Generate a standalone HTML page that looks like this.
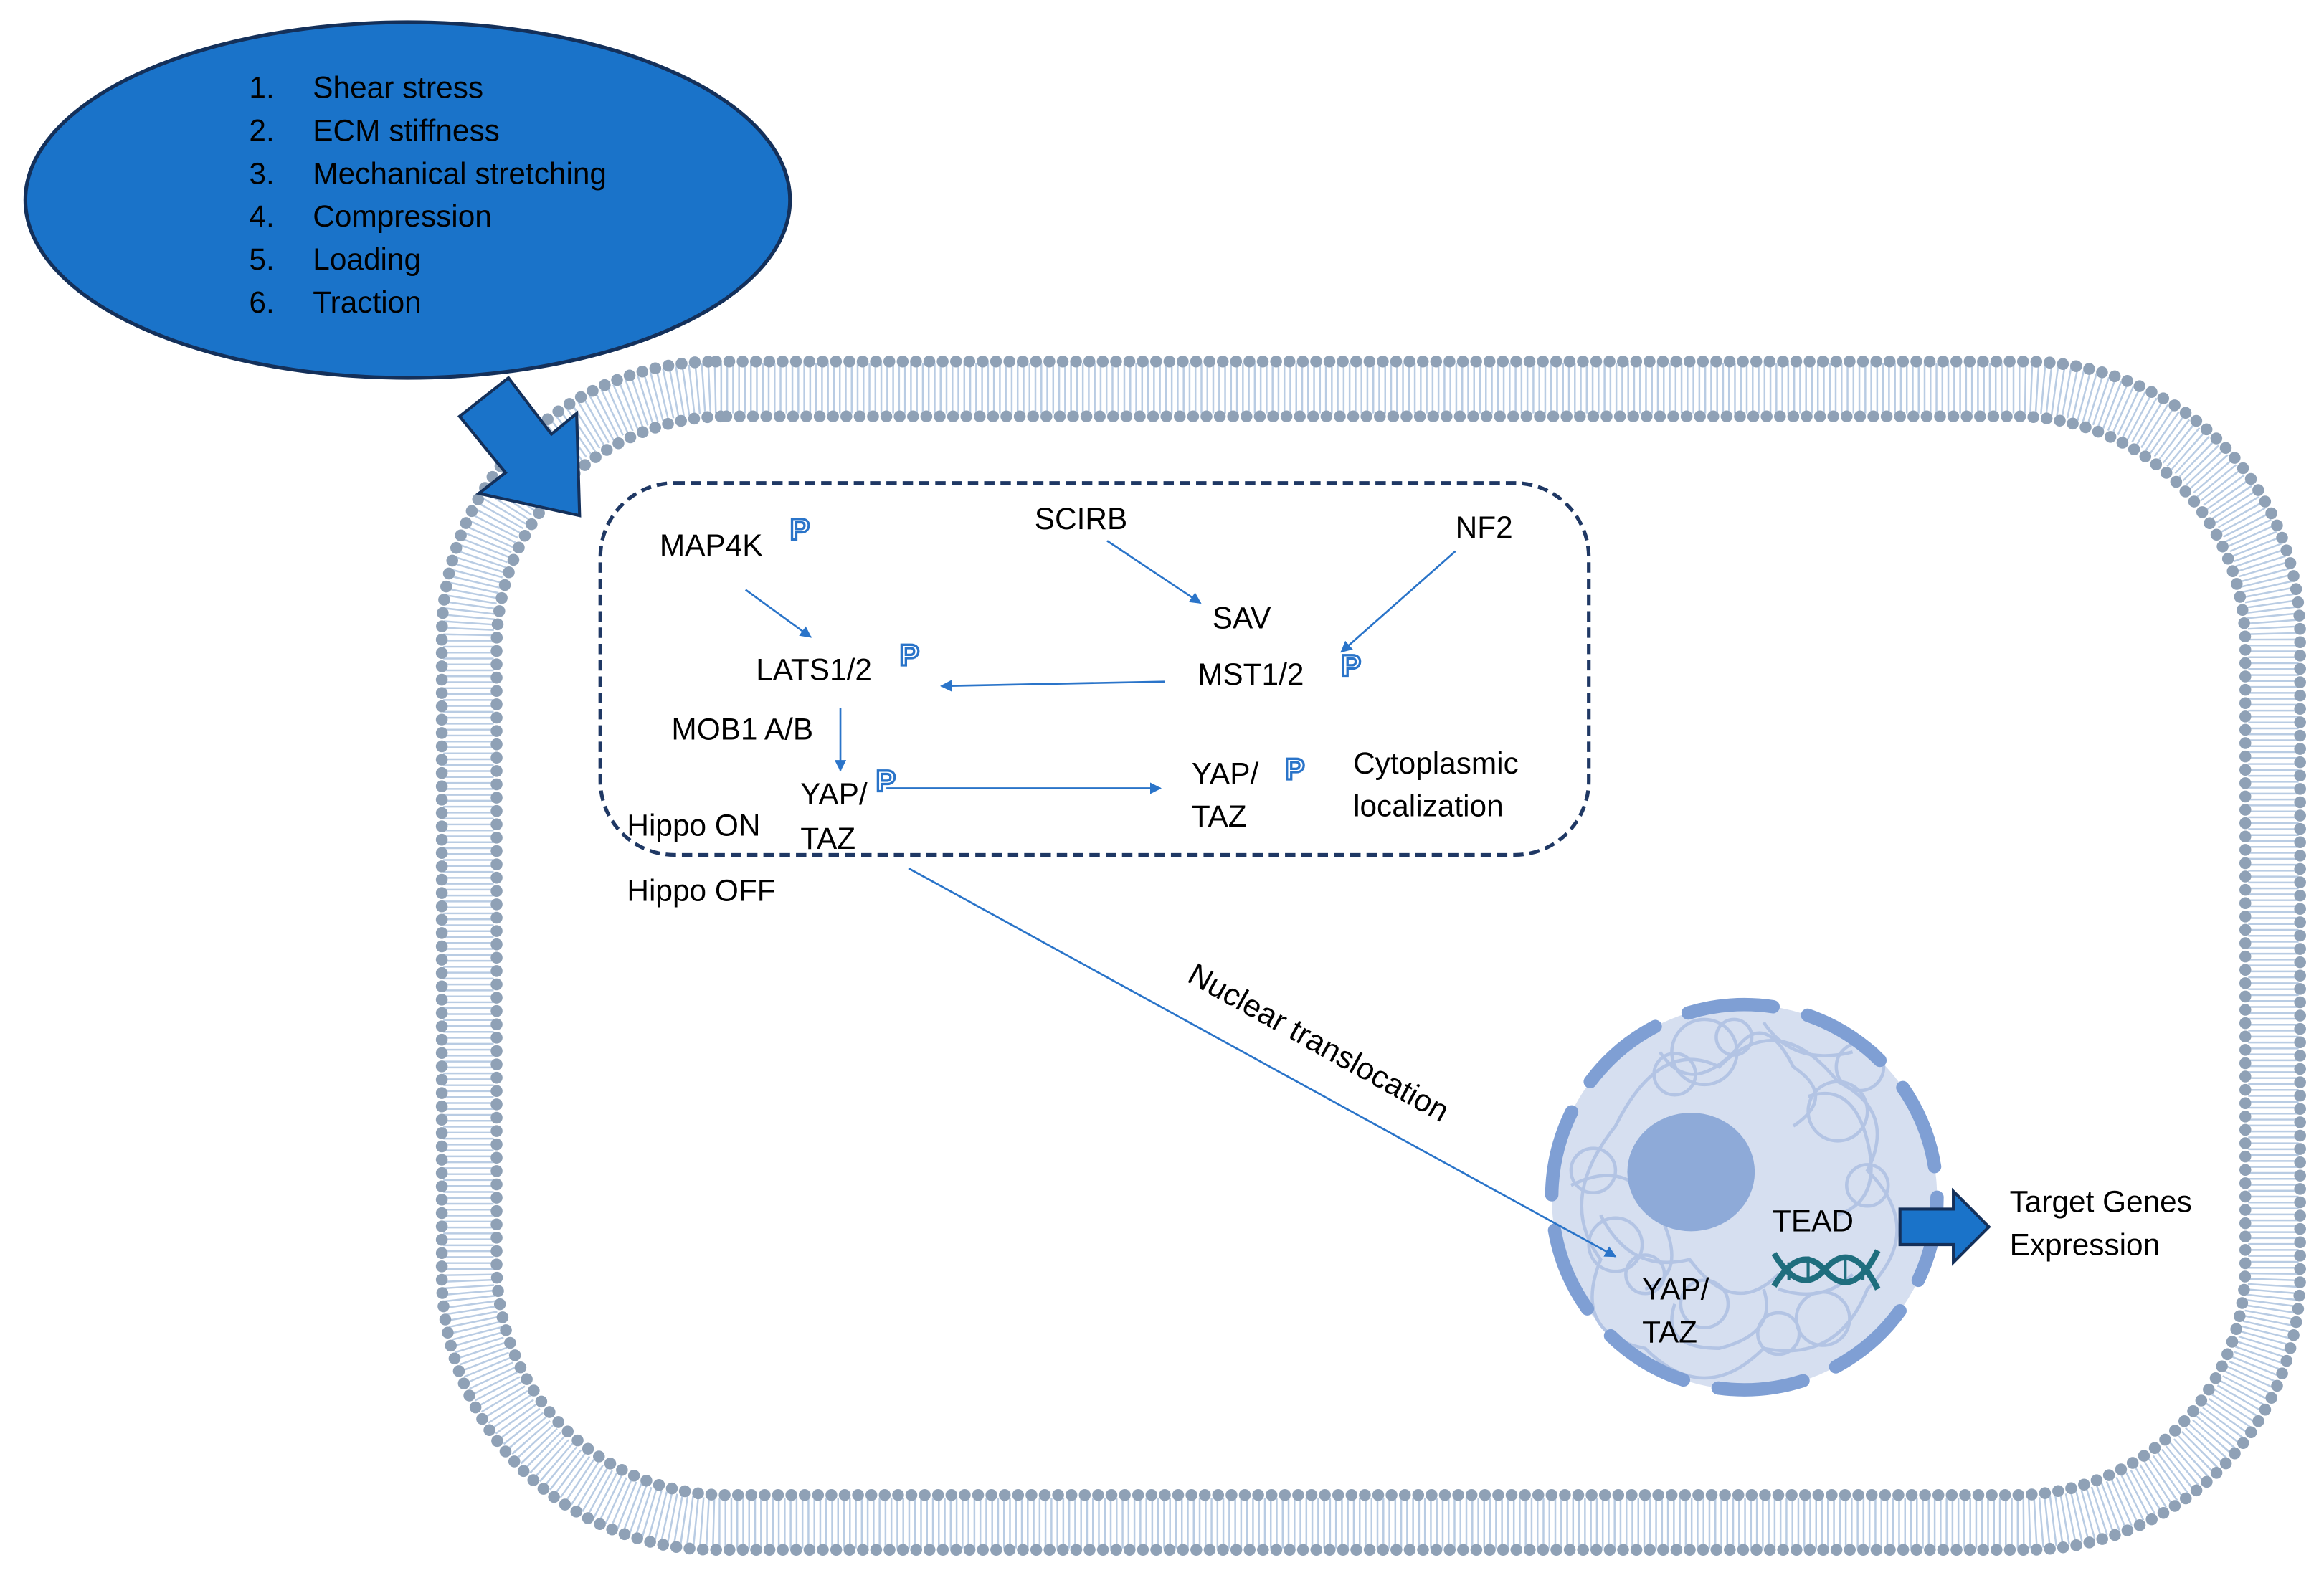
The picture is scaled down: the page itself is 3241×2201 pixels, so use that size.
<!DOCTYPE html>
<html><head><meta charset="utf-8"><style>
html,body{margin:0;padding:0;background:#fff}
svg{display:block}
text{font-family:"Liberation Sans",sans-serif;font-size:20.5px;fill:#000}
.p{font-size:20px;font-weight:bold;fill:#fff;stroke:#2a74c9;stroke-width:1.6}
</style></head><body>
<svg width="3241" height="2201" viewBox="0 0 1568 1065" xmlns="http://www.w3.org/2000/svg">
<defs>
<marker id="a" viewBox="0 0 10 10" refX="9" refY="5" markerWidth="6" markerHeight="6" orient="auto"><path d="M0,0L10,5L0,10z" fill="#2a74c9"/></marker>
</defs>
<!-- membrane -->
<rect x="316" y="262" width="1218" height="766" rx="170" fill="none" stroke="#b9cce3" stroke-width="34" stroke-dasharray="1.2 2.8"/>
<rect x="298" y="244" width="1254" height="802" rx="185" fill="none" stroke="#8fa1b6" stroke-width="8" stroke-linecap="round" stroke-dasharray="0 9"/>
<rect x="335" y="281" width="1180" height="728" rx="155" fill="none" stroke="#8fa1b6" stroke-width="8" stroke-linecap="round" stroke-dasharray="0 9"/>
<!-- ellipse -->
<ellipse cx="275" cy="135" rx="258" ry="120" fill="#1a73c9" stroke="#14305a" stroke-width="2.5"/>
<g style="font-size:21.5px">
<text x="168" y="66" fill="#fff">1.</text><text x="211" y="66" fill="#fff">Shear stress</text>
<text x="168" y="95" fill="#fff">2.</text><text x="211" y="95" fill="#fff">ECM stiffness</text>
<text x="168" y="124" fill="#fff">3.</text><text x="211" y="124" fill="#fff">Mechanical stretching</text>
<text x="168" y="153" fill="#fff">4.</text><text x="211" y="153" fill="#fff">Compression</text>
<text x="168" y="182" fill="#fff">5.</text><text x="211" y="182" fill="#fff">Loading</text>
<text x="168" y="211" fill="#fff">6.</text><text x="211" y="211" fill="#fff">Traction</text>
</g>
<!-- big arrow -->
<polygon points="310,281 343,255 372,293 389,279 391,348 323,333 341,319" fill="#1a73c9" stroke="#14305a" stroke-width="2"/>
<!-- dashed box -->
<rect x="405" y="326" width="667" height="251" rx="50" fill="none" stroke="#1f3864" stroke-width="2.5" stroke-dasharray="7 4"/>
<text x="445" y="375">MAP4K</text>
<text x="698" y="357">SCIRB</text>
<text x="982" y="363">NF2</text>
<text x="818" y="424">SAV</text>
<text x="510" y="459">LATS1/2</text>
<text x="808" y="462">MST1/2</text>
<text x="453" y="499">MOB1 A/B</text>
<text x="540" y="543">YAP/</text><text x="540" y="573">TAZ</text>
<text x="423" y="564">Hippo ON</text>
<text x="804" y="529">YAP/</text><text x="804" y="558">TAZ</text>
<text x="913" y="522">Cytoplasmic</text><text x="913" y="551">localization</text>
<text x="423" y="608">Hippo OFF</text>
<text class="p" x="533" y="364">P</text>
<text class="p" x="607" y="449">P</text>
<text class="p" x="905" y="456">P</text>
<text class="p" x="591" y="534">P</text>
<text class="p" x="867" y="526">P</text>
<g stroke="#2a74c9" stroke-width="1.3" fill="none" marker-end="url(#a)">
<line x1="503" y1="398" x2="547" y2="430"/>
<line x1="747" y1="365" x2="810" y2="407"/>
<line x1="982" y1="372" x2="905" y2="440"/>
<line x1="786" y1="460" x2="635" y2="463"/>
<line x1="567" y1="478" x2="567" y2="520"/>
<line x1="598" y1="532" x2="783" y2="532"/>
</g>
<text x="0" y="0" transform="translate(800,662) rotate(29)" style="font-size:21px">Nuclear translocation</text>
<!-- nucleus -->
<circle cx="1177" cy="808" r="130" fill="#d6dff0"/>
<g fill="none" stroke="#b3c4e4" stroke-width="2.2">
<path d="M1090,760 q30,-60 70,-40 q40,-40 80,10 q40,20 20,60 q40,40 0,80 q-20,50 -70,40 q-40,40 -80,0 q-50,-10 -30,-60 q-30,-40 10,-90z"/>
<path d="M1120,710 q20,30 50,0 q20,-30 40,10 q30,20 0,40 M1220,740 q30,-10 40,30 q10,40 -20,50 M1080,820 q20,40 60,30 q30,40 60,10 M1130,880 q-10,30 30,30 q40,-10 30,-40"/>
<circle cx="1150" cy="710" r="22"/><circle cx="1240" cy="750" r="20"/><circle cx="1090" cy="840" r="18"/><circle cx="1150" cy="880" r="16"/><circle cx="1230" cy="890" r="18"/>
<circle cx="1130" cy="725" r="14"/><circle cx="1170" cy="700" r="12"/><circle cx="1255" cy="720" r="16"/><circle cx="1075" cy="790" r="15"/><circle cx="1260" cy="800" r="14"/><circle cx="1200" cy="900" r="14"/><circle cx="1110" cy="860" r="13"/>
<path d="M1060,800 q40,-20 60,20 q20,40 -10,50 M1190,690 q20,30 60,20 M1250,860 q-20,20 -50,10"/>
</g>
<circle cx="1177" cy="808" r="130" fill="none" stroke="#7f9fd4" stroke-width="9" stroke-linecap="round" stroke-dasharray="58 24"/>
<ellipse cx="1141" cy="791" rx="43" ry="40" fill="#8eaad8"/>
<line x1="613" y1="586" x2="1090" y2="848" stroke="#2a74c9" stroke-width="1.3" marker-end="url(#a)"/>
<text x="1196" y="831">TEAD</text>
<text x="1108" y="877">YAP/</text><text x="1108" y="906">TAZ</text>
<g stroke="#1f6e7e" stroke-width="4" fill="none">
<path d="M1197,868 q18,-30 35,-10 q18,20 35,-14"/>
<path d="M1197,846 q18,30 35,10 q18,-20 35,14"/>
<path d="M1207,852 v12 M1220,848 v18 M1245,848 v18 M1257,852 v12" stroke-width="2"/>
</g>
<!-- block arrow -->
<polygon points="1282,816 1318,816 1318,804 1342,828 1318,852 1318,840 1282,840" fill="#1a73c9" stroke="#14305a" stroke-width="2"/>
<text x="1356" y="818">Target Genes</text>
<text x="1356" y="847">Expression</text>
</svg>
</body></html>
